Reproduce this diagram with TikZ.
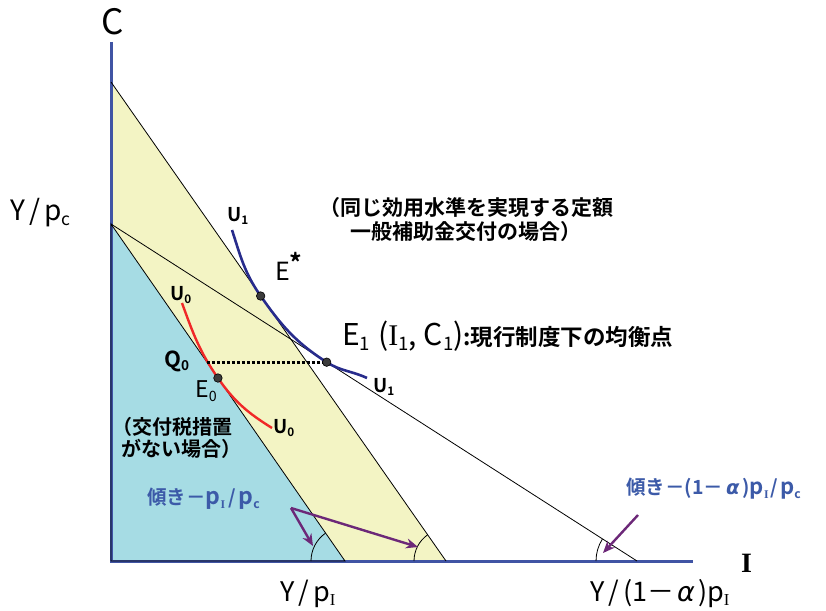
\documentclass[tikz,border=0pt]{standalone}
\usepackage{fontspec}
\usepackage{graphicx}
\setmainfont{Noto Sans CJK JP}[BoldFont={Noto Sans CJK JP Bold}]
\newfontfamily\serifI{Liberation Serif}
\newfontfamily\grk{DejaVu Sans}
\usetikzlibrary{arrows.meta,calc}
\definecolor{axisblue}{RGB}{64,84,164}
\definecolor{navy}{RGB}{40,44,140}
\definecolor{bluefill}{RGB}{166,220,228}
\definecolor{yellowfill}{RGB}{243,244,196}
\definecolor{ured}{RGB}{240,40,40}
\definecolor{slopeblue}{RGB}{60,90,168}
\definecolor{arrowpurple}{RGB}{108,40,120}
\definecolor{dotgray}{RGB}{60,60,60}
\newcommand\sbx[1]{\raisebox{-0.18em}{\scalebox{0.62}{#1}}}
\newcommand\fsz[1]{\fontsize{#1}{#1}\selectfont}
\newcommand\slh{\kern4pt/\kern4pt}
\tikzset{
  axisline/.style={draw=axisblue,line width=3pt},
  thinline/.style={draw=black,line width=0.8pt},
  uone/.style={draw=navy,line width=2.6pt},
  uzero/.style={draw=ured,line width=2.4pt},
  dotline/.style={draw=black,line width=3pt,dash pattern=on 3pt off 2pt},
  eqdot/.style={circle,fill=dotgray,draw=black,line width=0.6pt,minimum size=8.5pt,inner sep=0pt},
  parrow/.style={draw=arrowpurple,line width=2.4pt,-{Stealth[length=12pt,width=10pt]}},
  lab/.style={anchor=base west,inner sep=0pt},
  slopelab/.style={anchor=west,inner sep=0pt,text=slopeblue,font=\bfseries\fsz{19.5}},
}
\begin{document}
\begin{tikzpicture}[x=1pt,y=1pt]
\useasboundingbox (0,0) rectangle (826,-610);
\coordinate (O) at (111,-561);
\coordinate (Ctop) at (111,-42);
\coordinate (Iend) at (693,-561);
\coordinate (A) at (111,-224);
\coordinate (B) at (345,-561);
\coordinate (T) at (111,-82);
\coordinate (Bp) at (446,-561);
\coordinate (D) at (637,-561);
% regions
\fill[yellowfill] (T) -- (Bp) -- (B) -- (A) -- cycle;
\fill[bluefill] (O) -- (A) -- (B) -- cycle;
% axes
\draw[axisline] (Ctop) -- (O) -- (Iend);
% budget lines
\draw[thinline] (O) -- (A) -- (B) -- cycle;
\draw[thinline] (T) -- (Bp);
\draw[thinline] (A) -- (D);
% angle arcs
\draw[thinline] ($(B)+(-34,0)$) arc[start angle=180,end angle=124.8,radius=34];
\draw[thinline] ($(Bp)+(-32,0)$) arc[start angle=180,end angle=124.8,radius=32];
\draw[thinline] ($(D)+(-41,0)$) arc[start angle=180,end angle=147.4,radius=41];
% points
\coordinate (Es) at ($(T)!0.4468!(Bp)$);
\coordinate (E1) at ($(A)!0.41!(D)$);
\coordinate (Q0) at ($(A)!0.41!(B)$);
\coordinate (E0) at ($(A)!0.457!(B)$);
\coordinate (U1s) at (232,-230);
\coordinate (U1e) at (367,-378);
\coordinate (U0s) at (182,-303);
\coordinate (U0e) at (272,-428);
% indifference curves
\draw[uone] (U1s) to[out=-72,in=125] (Es) to[out=-55,in=147.4] (E1) to[out=-32.6,in=155] (U1e);
\draw[uzero] (U0s) to[out=-70,in=124.8] (E0) to[out=-55.2,in=148] (U0e);
% dotted line
\draw[dotline] (Q0) -- (E1);
% dots
\node[eqdot] (dEs) at (Es) {};
\node[eqdot] (dE1) at (E1) {};
\node[eqdot] (dE0) at (E0) {};
% axis labels
\node[lab] (lC) at (101,-35) {\fsz{35}C};
\node[lab] (lI) at (741,-572) {\serifI\bfseries\fsz{28}I};
\node[lab] (lYpc) at (10,-220) {\fsz{28}Y\slh p\sbx{c}};
\node[lab] (lYpI) at (280,-601) {\fsz{27}Y\slh p\sbx{\serifI I}};
\node[lab] (lYa) at (590,-601) {\fsz{27}Y\slh(1－\kern3pt{\grk\itshape α}\kern3pt)p\sbx{\serifI I}};
% curve labels
\node[lab] (lU1a) at (227,-221) {\bfseries\fsz{19}U\sbx{1}};
\node[lab] (lU1b) at (373,-392) {\bfseries\fsz{19}U\sbx{1}};
\node[lab] (lU0a) at (170,-300) {\bfseries\fsz{19}U\sbx{0}};
\node[lab] (lU0b) at (273,-433) {\bfseries\fsz{19}U\sbx{0}};
% point labels
\node[lab] (lEs) at (275,-280) {\fsz{25}E\raisebox{0.3em}{\bfseries *}};
\node[lab] (lE0) at (195,-397) {\fsz{23}E\sbx{0}};
\node[lab] (lQ0) at (164,-367) {\bfseries\fsz{22}Q\sbx{0}};
\node[lab] (lE1) at (342,-345) {\fsz{30}E\sbx{1}\kern8pt({\serifI I}\sbx{1}{,}\hspace{7pt}C\sbx{1}){\bfseries\fsz{22.5}:現行制度下の均衡点}};
% notes
\node[inner sep=0pt,align=center,font=\bfseries\fontsize{21}{24}\selectfont] (note1) at (466,-220)
  {（同じ効用水準を実現する定額\\一般補助金交付の場合）};
\node[inner sep=0pt,align=left,anchor=west,font=\bfseries\fontsize{20}{22}\selectfont] (note2) at (112,-438)
  {（交付税措置\\\hspace{0.45em}がない場合）};
% slope labels
\node[slopelab] (s1) at (147,-499) {傾き－{\fsz{23}p}\sbx{\fsz{19}\serifI I}\kern3pt/\kern3pt{\fsz{23}p}\sbx{c}};
\node[slopelab] (s2) at (626,-489) {傾き－(1－\kern3pt{\grk\itshape α}\kern3pt){\fsz{22}p}\sbx{\fsz{19}\serifI I}\kern2pt/\kern2pt{\fsz{22}p}\sbx{c}};
% arrows
\coordinate (a1s) at (291,-508);
\coordinate (a1t) at (313,-546);
\coordinate (a2t) at (418,-547);
\coordinate (a3s) at (638,-515);
\coordinate (a3t) at (603,-553);
\draw[parrow] (a1s) -- (a1t);
\draw[parrow] (a1s) -- (a2t);
\draw[parrow] (a3s) -- (a3t);
\end{tikzpicture}
\end{document}
